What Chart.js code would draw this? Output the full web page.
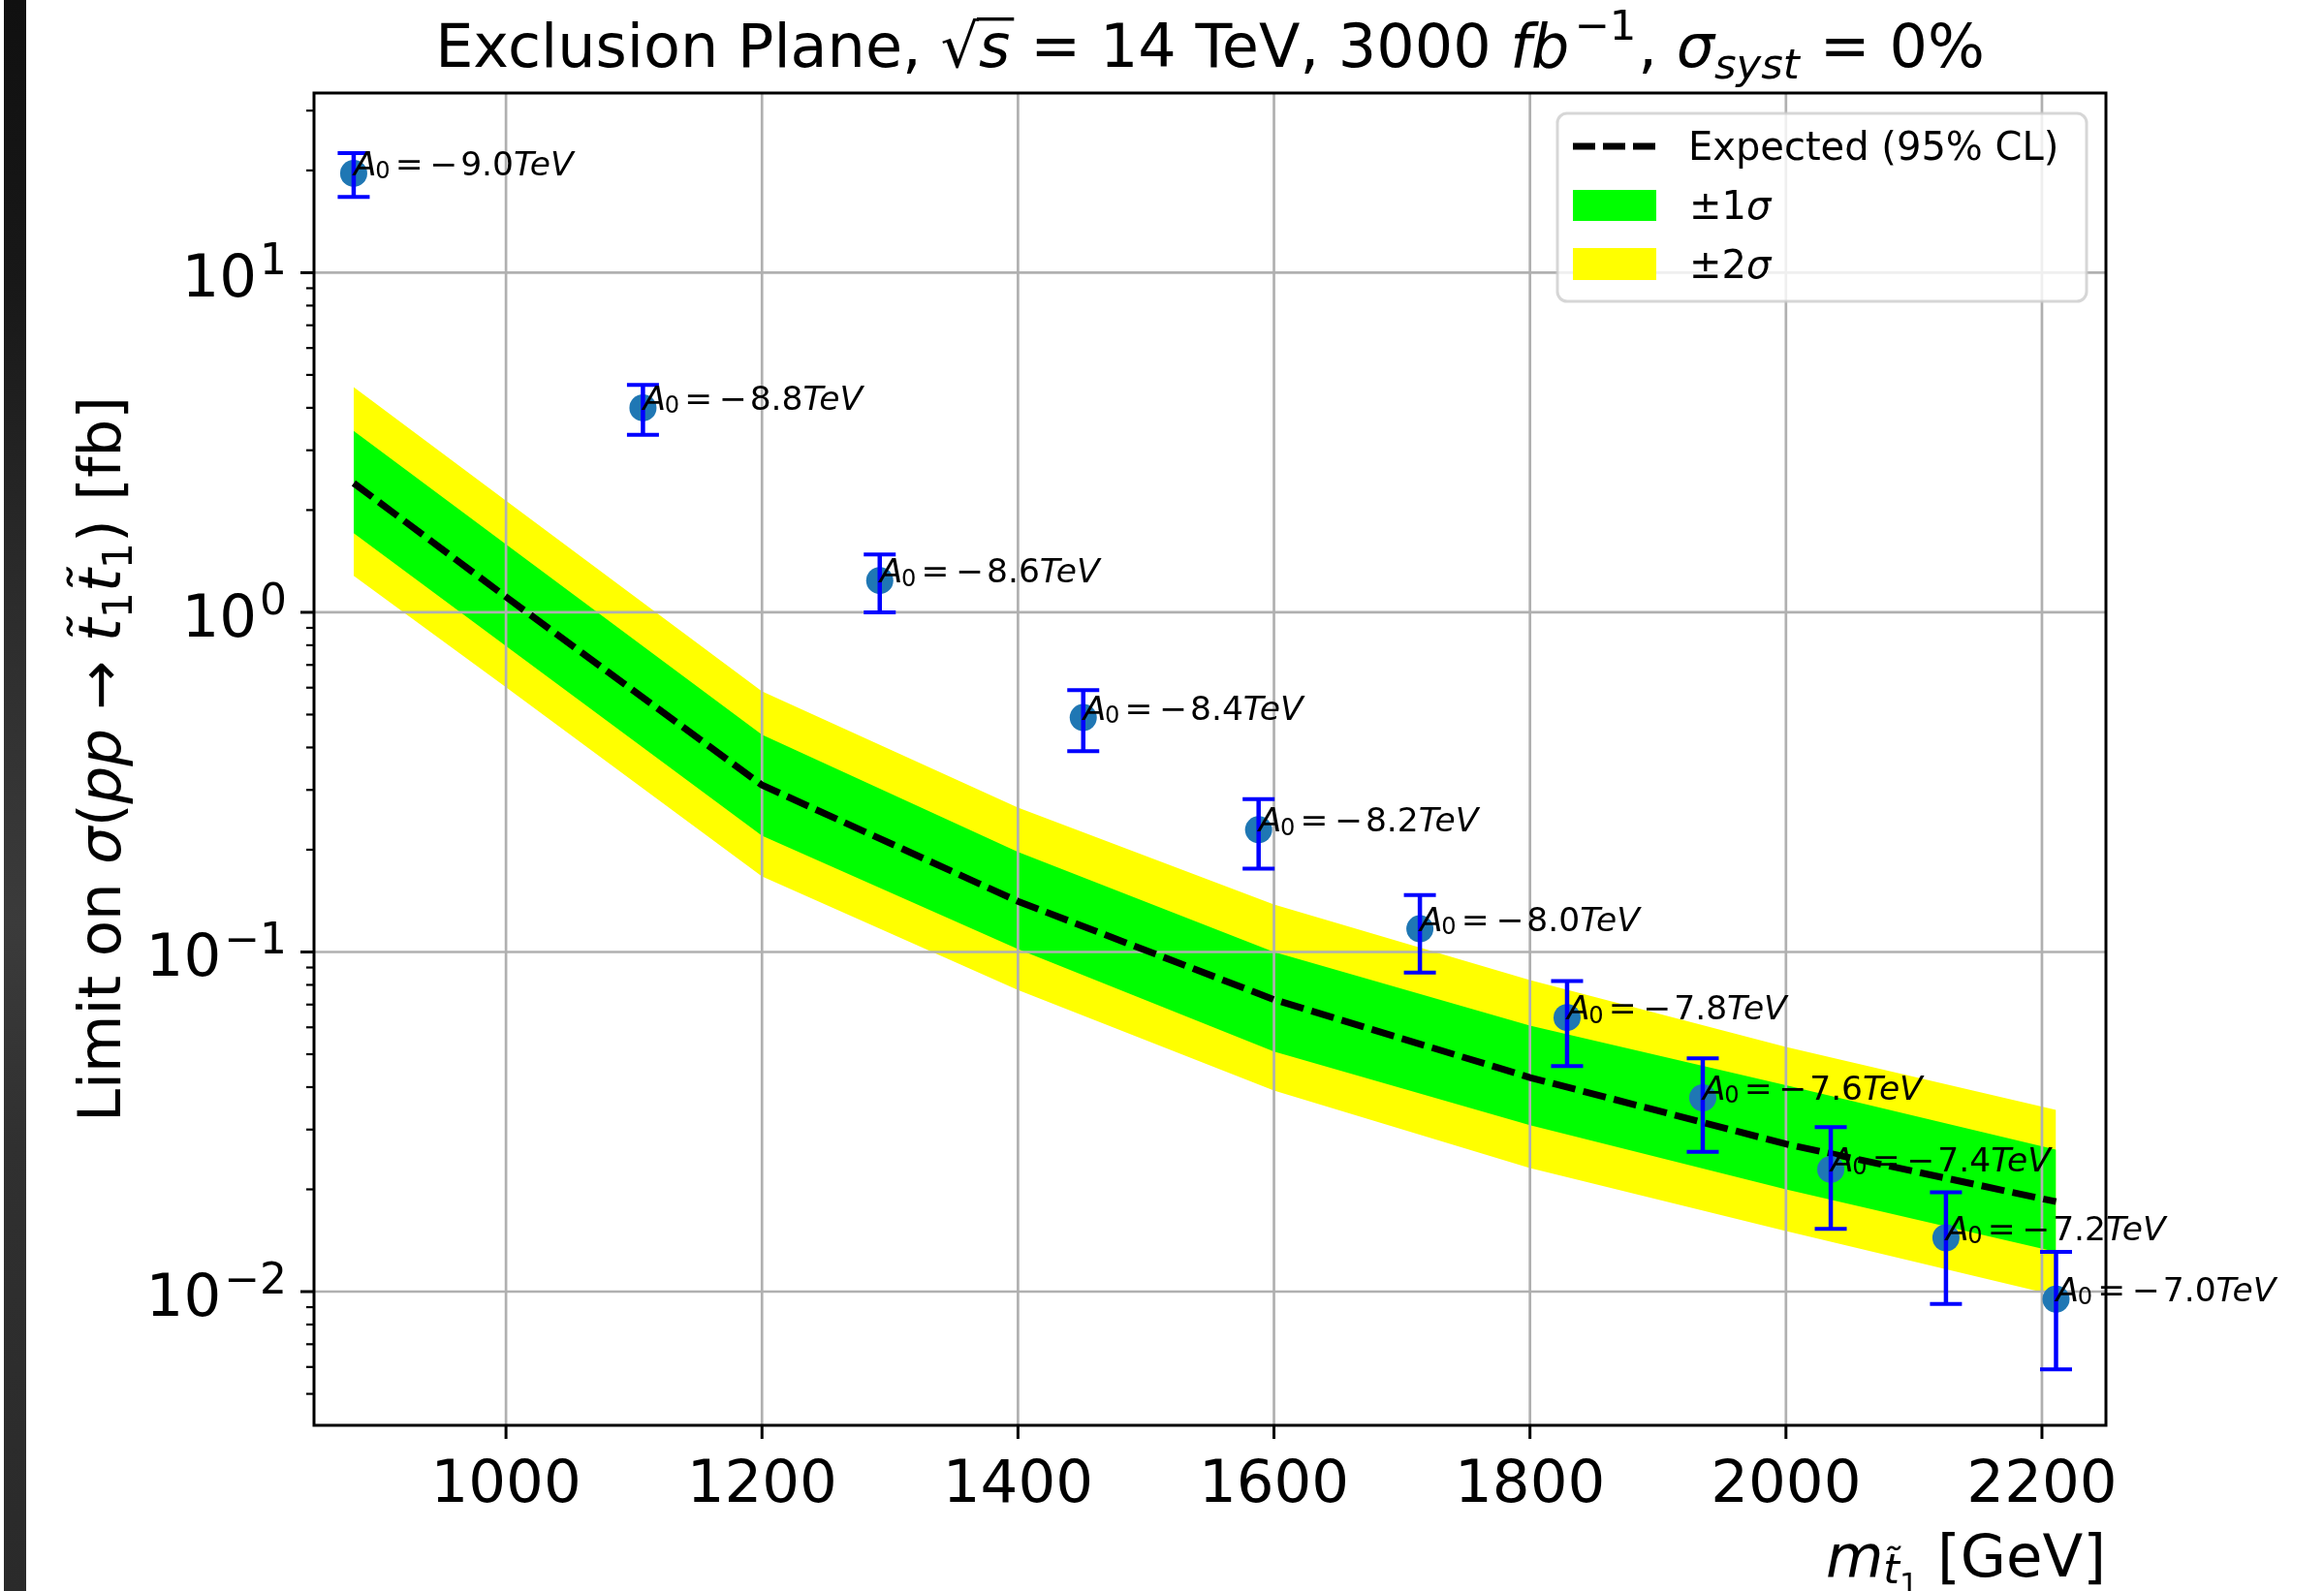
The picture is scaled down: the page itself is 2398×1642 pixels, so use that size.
<!DOCTYPE html>
<html>
<head>
<meta charset="utf-8">
<script src="https://cdn.jsdelivr.net/npm/chart.js@4.4.1/dist/chart.umd.min.js"></script>
<style>
  body { margin: 0; background: #fff; }
  #wrap { position: relative; width: 2398px; height: 1642px; }
  #myChart { position: absolute; left: 0; top: 0; }
  #edge {
    position: absolute; left: 4px; top: 0; width: 23px; height: 1642px;
    background: linear-gradient(to bottom, #101010 0%, #181818 18%, #2c2c2c 38%, #3b3b3b 58%, #303030 72%, #2a2a2a 100%);
  }
</style>
</head>
<body>
<div id="wrap">
  <canvas id="myChart" width="2398" height="1642"></canvas>
  <div id="edge"></div>
</div>
<script>
// stop mass points, one per A0 value
const stopMass = [881, 1107, 1292, 1451, 1588, 1714, 1829, 1935, 2035, 2125, 2211]
const a0Labels = ['−9.0', '−8.8', '−8.6', '−8.4', '−8.2', '−8.0', '−7.8', '−7.6', '−7.4', '−7.2', '−7.0']
const xsecLimit = [19.6, 4.0, 1.24, 0.49, 0.229, 0.117, 0.0641, 0.0372, 0.0229, 0.0144, 0.0095]
const limitErr = [2.9, 0.67, 0.24, 0.10, 0.053, 0.030, 0.018, 0.0114, 0.0076, 0.0052, 0.0036]

// expected limit and the 1/2 sigma bands
const bandMass = [881, 1000, 1200, 1400, 1600, 1800, 2000, 2211]
const expected = [2.40, 1.11, 0.31, 0.141, 0.0724, 0.0427, 0.0272, 0.0184]
const plus2 = [4.6, 2.13, 0.585, 0.266, 0.138, 0.0826, 0.0525, 0.0343]
const plus1 = [3.42, 1.585, 0.436, 0.197, 0.100, 0.0607, 0.0405, 0.0262]
const minus1 = [1.71, 0.796, 0.22, 0.102, 0.0509, 0.0309, 0.020, 0.0131]
const minus2 = [1.28, 0.602, 0.167, 0.0773, 0.0391, 0.0231, 0.01507, 0.00975]

// axes
const xTicks = [1000, 1200, 1400, 1600, 1800, 2000, 2200]
const yTicks = [0.01, 0.1, 1, 10]
const yTickExp = ['−2', '−1', '0', '1']

const FONT = '"DejaVu Sans"'
const graph = document.getElementById('myChart')

const pts = (xs, ys) => xs.map((x, i) => ({ x: x, y: ys[i] }))

function setFont(ctx, px, it) {
    ctx.font = (it ? 'italic ' : '') + px + 'px ' + FONT
}

// lays out a list of text runs (italic / sub / superscript pieces)
function layoutRuns(ctx, runs, size) {
    let w = 0
    const items = runs.map(r => {
        const px = size * (r.sc || 1)
        setFont(ctx, px, r.it)
        const x = w + (r.gap || 0) * size
        const adv = ctx.measureText(r.t).width
        w = x + adv
        return Object.assign({}, r, { px, x, adv })
    })
    return { items, width: w }
}

function drawRuns(ctx, runs, x, y, size, align) {
    const lay = layoutRuns(ctx, runs, size)
    let x0 = x
    if (align === 'center') x0 = x - lay.width / 2
    if (align === 'right') x0 = x - lay.width
    ctx.textAlign = 'left'
    ctx.textBaseline = 'alphabetic'
    lay.items.forEach(r => {
        setFont(ctx, r.px, r.it)
        ctx.fillText(r.t, x0 + r.x, y + (r.dy || 0) * size)
        if (r.bar) {
            setFont(ctx, size, false)
            const asc = ctx.measureText('√').actualBoundingBoxAscent
            ctx.fillRect(x0 + r.x - 2, y - asc, r.adv + 6, size * 0.055)
        }
    })
}

const decor = {
    id: 'decor',
    beforeDatasetsDraw(chart) {
        // grid goes over the bands but under lines and markers
        const { ctx, chartArea: a, scales: { x, y } } = chart
        ctx.save()
        ctx.strokeStyle = '#b0b0b0'
        ctx.lineWidth = 2.7
        xTicks.forEach(v => {
            const px = x.getPixelForValue(v)
            ctx.beginPath(); ctx.moveTo(px, a.top); ctx.lineTo(px, a.bottom); ctx.stroke()
        })
        yTicks.forEach(v => {
            const py = y.getPixelForValue(v)
            ctx.beginPath(); ctx.moveTo(a.left, py); ctx.lineTo(a.right, py); ctx.stroke()
        })
        ctx.restore()
    },
    afterDatasetsDraw(chart) {
        const { ctx, chartArea: a, scales: { x, y } } = chart
        ctx.save()

        // error bars
        ctx.strokeStyle = '#0000ff'
        stopMass.forEach((m, i) => {
            const px = x.getPixelForValue(m)
            const top = y.getPixelForValue(xsecLimit[i] + limitErr[i])
            const bot = y.getPixelForValue(xsecLimit[i] - limitErr[i])
            ctx.lineWidth = 4.5
            ctx.beginPath(); ctx.moveTo(px, top); ctx.lineTo(px, bot); ctx.stroke()
            ctx.lineWidth = 4
            ctx.beginPath()
            ctx.moveTo(px - 16.5, top); ctx.lineTo(px + 16.5, top)
            ctx.moveTo(px - 16.5, bot); ctx.lineTo(px + 16.5, bot)
            ctx.stroke()
        })

        // A0 annotations
        ctx.fillStyle = '#000'
        stopMass.forEach((m, i) => {
            const px = x.getPixelForValue(m)
            const py = y.getPixelForValue(xsecLimit[i])
            drawRuns(ctx, [
                { t: 'A', it: 1 },
                { t: '0', sc: 0.7, dy: 0.1, gap: -0.04 },
                { t: '=', gap: 0.15 },
                { t: '−', gap: 0.2 },
                { t: a0Labels[i].slice(1), gap: 0.08 },
                { t: 'TeV', it: 1 }
            ], px, py + 2, 34.5, 'left')
        })

        // spines
        ctx.strokeStyle = '#000'
        ctx.lineWidth = 3
        ctx.strokeRect(a.left, a.top, a.right - a.left, a.bottom - a.top)

        // x ticks and labels
        ctx.lineWidth = 3
        xTicks.forEach(v => {
            const px = x.getPixelForValue(v)
            ctx.beginPath(); ctx.moveTo(px, a.bottom); ctx.lineTo(px, a.bottom + 14); ctx.stroke()
            drawRuns(ctx, [{ t: String(v) }], px, 1550, 61, 'center')
        })

        // y ticks: decades and minor ones
        y.ticks.forEach(t => {
            const py = y.getPixelForValue(t.value)
            const major = yTicks.includes(t.value)
            ctx.lineWidth = major ? 3 : 2.2
            ctx.beginPath(); ctx.moveTo(a.left, py); ctx.lineTo(a.left - (major ? 14 : 8), py); ctx.stroke()
        })
        yTicks.forEach((v, i) => {
            const py = y.getPixelForValue(v)
            drawRuns(ctx, [{ t: '10' }, { t: yTickExp[i], sc: 0.72, dy: -0.38, gap: 0.05 }], 296, py + 25, 61, 'right')
        })

        // axis titles
        drawRuns(ctx, [
            { t: 'm', it: 1 },
            { t: 't\u0303', it: 1, sc: 0.7, dy: 0.12 },
            { t: '1', sc: 0.5, dy: 0.3 },
            { t: ' [GeV]' }
        ], a.right, 1627, 61, 'right')

        ctx.save()
        ctx.translate(124, (a.top + a.bottom) / 2)
        ctx.rotate(-Math.PI / 2)
        drawRuns(ctx, [
            { t: 'Limit on ' }, { t: 'σ', it: 1 }, { t: '(' }, { t: 'pp', it: 1 }, { t: ' → ' },
            { t: 't\u0303', it: 1 }, { t: '1', sc: 0.7, dy: 0.2 },
            { t: 't\u0303', it: 1 }, { t: '1', sc: 0.7, dy: 0.2 },
            { t: ')' }, { t: ' [fb]' }
        ], 0, 0, 61, 'center')
        ctx.restore()

        // title
        drawRuns(ctx, [
            { t: 'Exclusion Plane, ' },
            { t: '√' },
            { t: 's', it: 1, bar: 1 },
            { t: ' = 14 TeV, 3000 ', gap: 0.02 },
            { t: 'fb', it: 1 },
            { t: '−1', sc: 0.7, dy: -0.45, gap: 0.08 },
            { t: ', ', gap: 0.03 },
            { t: 'σ', it: 1 },
            { t: 'syst', it: 1, sc: 0.7, dy: 0.2 },
            { t: ' = 0%', gap: 0.02 }
        ], (a.left + a.right) / 2, 69, 62, 'center')

        // legend
        ctx.beginPath()
        ctx.roundRect(1607, 117, 546, 194, 10)
        ctx.fillStyle = 'rgba(255,255,255,0.8)'
        ctx.fill()
        ctx.strokeStyle = 'rgba(204,204,204,0.8)'
        ctx.lineWidth = 3
        ctx.stroke()

        ctx.strokeStyle = '#000'
        ctx.lineWidth = 7
        ctx.setLineDash([23, 8])
        ctx.beginPath(); ctx.moveTo(1623, 151); ctx.lineTo(1708, 151); ctx.stroke()
        ctx.setLineDash([])
        ctx.fillStyle = '#00ff00'
        ctx.fillRect(1623, 196, 86, 32)
        ctx.fillStyle = '#ffff00'
        ctx.fillRect(1623, 256, 86, 33)
        ctx.fillStyle = '#000'
        drawRuns(ctx, [{ t: 'Expected (95% CL)' }], 1742, 165, 40, 'left')
        drawRuns(ctx, [{ t: '±1' }, { t: 'σ', it: 1 }], 1743, 226, 40, 'left')
        drawRuns(ctx, [{ t: '±2' }, { t: 'σ', it: 1 }], 1743, 287, 40, 'left')

        ctx.restore()
    }
}

const datasets = [
    {
        label: 'Observed',
        data: pts(stopMass, xsecLimit),
        showLine: false,
        pointRadius: 14,
        pointBackgroundColor: '#1f77b4',
        pointBorderWidth: 0
    },
    {
        label: 'Expected (95% CL)',
        data: pts(bandMass, expected),
        borderColor: '#000',
        borderWidth: 7,
        borderDash: [24, 8.5],
        borderCapStyle: 'butt',
        pointRadius: 0,
        tension: 0,
        fill: false
    },
    {
        label: '±1σ',
        data: pts(bandMass, plus1),
        borderWidth: 0,
        pointRadius: 0,
        backgroundColor: '#00ff00',
        fill: 3
    },
    { label: '-1σ', data: pts(bandMass, minus1), borderWidth: 0, pointRadius: 0, fill: false },
    {
        label: '±2σ',
        data: pts(bandMass, plus2),
        borderWidth: 0,
        pointRadius: 0,
        backgroundColor: '#ffff00',
        fill: 5
    },
    { label: '-2σ', data: pts(bandMass, minus2), borderWidth: 0, pointRadius: 0, fill: false }
]

const config = {
    type: 'line',
    data: { datasets },
    options: {
        responsive: false,
        animation: false,
        devicePixelRatio: 1,
        layout: { padding: { top: 96, right: 225, left: 0, bottom: 0 } },
        plugins: {
            legend: { display: false },
            title: { display: false },
            tooltip: { enabled: false },
            filler: { drawTime: 'beforeDatasetsDraw' }
        },
        scales: {
            x: {
                type: 'linear',
                min: 850,
                max: 2250,
                grid: { display: false },
                border: { display: false },
                ticks: { display: false },
                afterBuildTicks: s => { s.ticks = xTicks.map(v => ({ value: v })) },
                afterFit: s => { s.height = 171 }
            },
            y: {
                type: 'logarithmic',
                min: 0.00404,
                max: 33.8,
                grid: { display: false },
                border: { display: false },
                ticks: { display: false },
                afterBuildTicks: s => {
                    const t = []
                    for (let d = -3; d <= 1; d++) {
                        for (let k = 1; k <= 9; k++) {
                            const v = Number((k * Math.pow(10, d)).toPrecision(3))
                            if (v >= s.min && v <= s.max) t.push({ value: v })
                        }
                    }
                    s.ticks = t
                },
                afterFit: s => { s.width = 324 }
            }
        }
    },
    plugins: [decor]
}

new Chart(graph, config)
</script>
</body>
</html>
